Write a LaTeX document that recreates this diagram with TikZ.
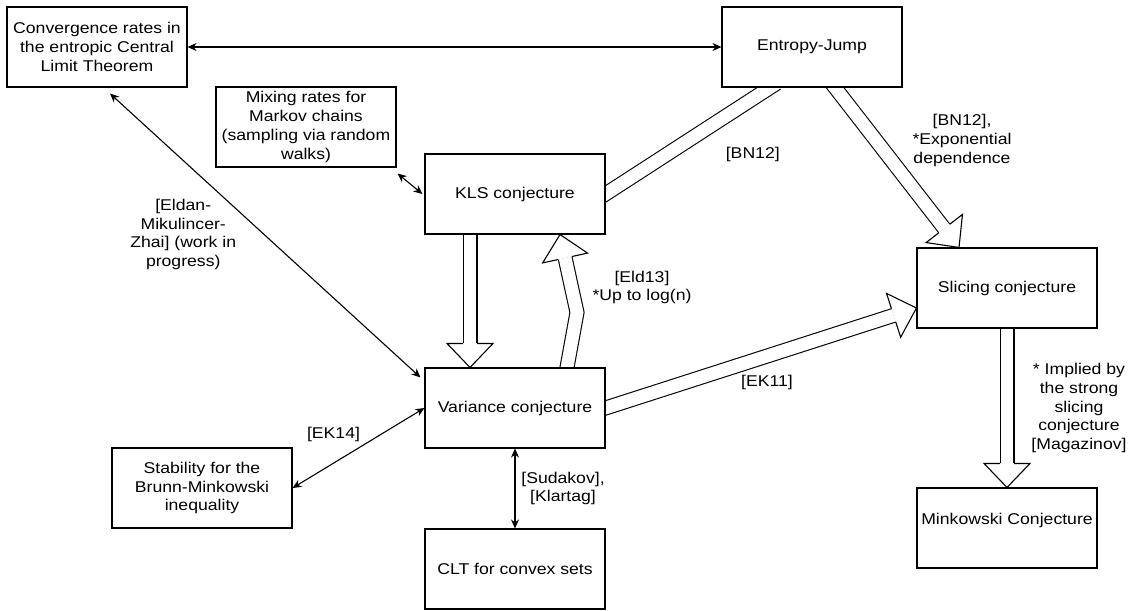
\documentclass[tikz,border=0pt]{standalone}
\usepackage{fontspec}
\setmainfont{Liberation Sans}[FakeStretch=1.13]
\usepackage{tikz}
\usetikzlibrary{arrows.meta}
\usetikzlibrary{positioning, calc, backgrounds}

\tikzset{
    box/.style={draw, fill=white, line width=1.1pt, minimum width=180pt, minimum height=80pt,
        inner sep=2pt, align=center, on grid},
    lbl/.style={align=center, inner sep=0pt},
    both/.style={{Stealth[length=9pt,width=8pt]}-{Stealth[length=9pt,width=8pt]}, line width=1.1pt},
    fatshaft/.style={line width=1.1pt, double=white, double distance=12.8pt},
    fathead/.style={line width=1.1pt, fill=white, line join=miter},
}

% hollow block arrow: shaft path, last point before the tip, tip
\newcommand{\fatarrow}[3]{%
    \coordinate (fa-t) at (#3);
    \coordinate (fa-h) at ($(#3)!24pt!(#2)$);
    \draw[fatshaft, shorten <=-8pt] #1 -- (fa-h);
    \draw[fathead] ($(fa-h)!7pt!90:(fa-t)$) -- ($(fa-h)!23pt!90:(fa-t)$) -- (fa-t)
        -- ($(fa-h)!23pt!-90:(fa-t)$) -- ($(fa-h)!7pt!-90:(fa-t)$);
}

\begin{document}
\begin{tikzpicture}[x=1pt, y=-1pt, font=\fontsize{15.6}{18.7}\selectfont]
    \useasboundingbox (0,0) rectangle (1131,610);

    \node[box] (conv) at (97,47) {Convergence rates in\\the entropic Central\\Limit Theorem};
    \node[box, right=715pt of conv] (entropy) {Entropy-Jump};
    \node[box] (kls) at (515,194) {KLS conjecture};
    \node[box, above left=67pt and 209pt of kls] (mixing) {Mixing rates for\\Markov chains\\(sampling via random\\walks)};
    \node[box, below=214pt of kls] (var) {Variance conjecture};
    \node[box, below=161pt of var] (clt) {CLT for convex sets};
    \node[box, below left=80pt and 313pt of var] (stab) {Stability for the\\Brunn-Minkowski\\inequality};
    \node[box] (slicing) at (1007,288) {Slicing conjecture};
    \node[box, below=240pt of slicing] (mink) {Minkowski Conjecture\\\mbox{}};

    \coordinate (kls-down) at ([xshift=-45pt]kls.south);
    \coordinate (var-up) at ([xshift=-45pt]var.north);
    \coordinate (var-out) at ([xshift=52pt]var.north);
    \coordinate (eld-bend) at ([shift={(62,-55)}]var.north);
    \coordinate (kls-in) at ([xshift=45pt]kls.south);
    \coordinate (ej-left) at ([xshift=-42pt]entropy.south);
    \coordinate (ej-right) at ([xshift=23pt]entropy.south);
    \coordinate (sl-top) at ([xshift=-48pt]slicing.north);
    \coordinate (sl-in) at ([shift={(0,20)}]slicing.west);

    \begin{scope}[on background layer]
        \draw[both] (conv) -- (entropy);
        \draw[both] ([shift={(13,6)}]conv.south) -- ([shift={(-4,10)}]var.north west)
            node[lbl, midway, shift={(-82,-1)}] (lab-emz) {[Eldan-\\Mikulincer-\\Zhai] (work in\\progress)};
        \draw[both] ([shift={(1,6)}]mixing.south east) -- ([xshift=-2pt]kls.west);
        \draw[both] (var.west) -- (stab.east)
            node[lbl, midway, shift={(-25,-14)}] (lab-ek14) {[EK14]};
        \draw[both] (var) -- (clt)
            node[lbl, midway, shift={(48,0)}] (lab-sk) {[Sudakov],\\{}[Klartag]};

        \fatarrow{(kls-down)}{kls-down}{var-up}
        \fatarrow{(var-out) -- (eld-bend)}{eld-bend}{kls-in}
        \draw[fatshaft, shorten <=-8pt, shorten >=-8pt] (kls.east) -- (ej-left);
        \fatarrow{(ej-right)}{ej-right}{sl-top}
        \fatarrow{(var.east)}{var.east}{sl-in}
        \fatarrow{(slicing.south)}{slicing.south}{mink.north}
    \end{scope}

    \node[lbl] (lab-eld13) at ([shift={(65,-25)}]eld-bend) {[Eld13]\\{}*Up to log(n)};
    \path (kls.east) -- (ej-left) node[lbl, midway, shift={(65,14)}] (lab-bn) {[BN12]};
    \path (ej-right) -- (sl-top) node[lbl, midway, shift={(65,-27)}] (lab-bnexp) {[BN12],\\{}*Exponential\\dependence};
    \path (var.east) -- (sl-in) node[lbl, midway, shift={(6,24)}] (lab-ek11) {[EK11]};
    \path (slicing) -- (mink) node[lbl, midway, shift={(72,0)}] (lab-mag) {* Implied by\\the strong\\slicing\\conjecture\\{}[Magazinov]};
\end{tikzpicture}
\end{document}
